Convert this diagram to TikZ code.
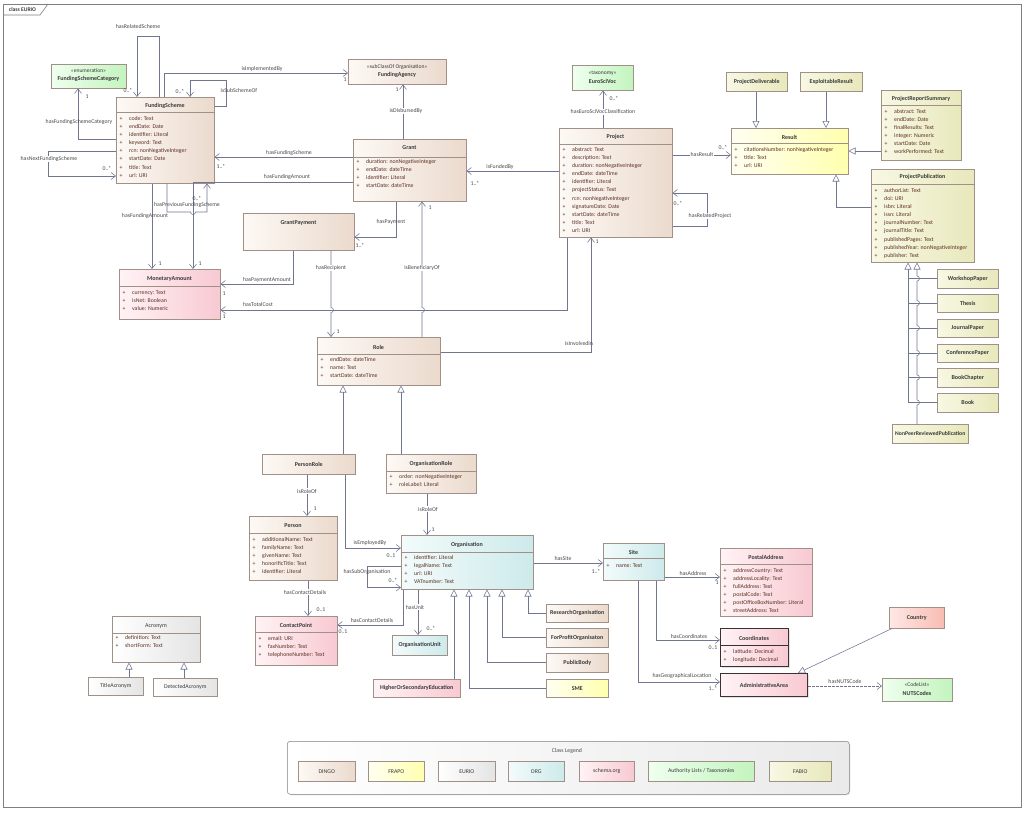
\documentclass[tikz,border=0pt]{standalone}
\usepackage{fontspec}
\setmainfont{Carlito}
\usetikzlibrary{arrows.meta,shadows}
\definecolor{dingoL}{HTML}{FDF9F5}\definecolor{dingoR}{HTML}{EBDACD}
\definecolor{frapoL}{HTML}{FFFFF2}\definecolor{frapoR}{HTML}{FFFFAE}
\definecolor{eurioL}{HTML}{FFFFFF}\definecolor{eurioR}{HTML}{E4E4E4}
\definecolor{orgL}{HTML}{F3FBFB}\definecolor{orgR}{HTML}{CDEAEB}
\definecolor{schL}{HTML}{FFF3F5}\definecolor{schR}{HTML}{F8C9D2}
\definecolor{authL}{HTML}{EFFFEF}\definecolor{authR}{HTML}{C3F4BE}
\definecolor{fabL}{HTML}{F8F8E4}\definecolor{fabR}{HTML}{E8E8BC}
\definecolor{ctyL}{HTML}{FFE8E4}\definecolor{ctyR}{HTML}{F7BCB3}
\definecolor{bord}{HTML}{A09088}
\definecolor{thickb}{HTML}{3C2F35}
\definecolor{lnc}{HTML}{707692}
\definecolor{ttlc}{HTML}{3A3A3A}
\definecolor{attrc}{HTML}{5B2E22}
\definecolor{lblc}{HTML}{4A4A4A}
\definecolor{framec}{HTML}{7F7F7F}
\definecolor{legR}{HTML}{EAEAEA}
\newcommand\pl[1]{\makebox[9.5pt][l]{+}#1}
\newcommand\cls[7]{\node[ubox,#6,minimum width={#4-#2},minimum height={#5-#3},anchor=north west] (#1) at (#2,#3) {#7};}
\begin{document}
\begin{tikzpicture}[x=1pt,y=-1pt,
  ubox/.style={draw=bord,line width=0.5pt,inner sep=0pt,text=ttlc,
    font={\fontsize{6}{7}\selectfont\bfseries},
    drop shadow={shadow xshift=1.2pt,shadow yshift=-1.2pt,opacity=0.22}},
  dingo/.style={left color=dingoL,right color=dingoR},
  frapo/.style={left color=frapoL,right color=frapoR},
  eurio/.style={left color=eurioL,right color=eurioR},
  orgc/.style={left color=orgL,right color=orgR},
  sch/.style={left color=schL,right color=schR},
  auth/.style={left color=authL,right color=authR},
  fab/.style={left color=fabL,right color=fabR},
  cty/.style={left color=ctyL,right color=ctyR},
  thick border/.style={draw=thickb,line width=1pt},
  lgi/.style={font={\fontsize{5.8}{7}\selectfont}},
  ttl/.style={font={\fontsize{6}{7}\selectfont\bfseries},text=ttlc,inner sep=0pt},
  ster/.style={font={\fontsize{5.6}{7}\selectfont},text=ttlc,inner sep=0pt},
  attr/.style={font={\fontsize{5.8}{8.1}\selectfont},text=attrc,align=left,anchor=north west,inner sep=0pt},
  lbl/.style={font={\fontsize{5.8}{7}\selectfont},text=lblc,inner sep=0.5pt},
  lblw/.style={lbl,fill=white},
  dv/.style={draw=bord,line width=0.5pt},
  ln/.style={draw=lnc,line width=0.55pt},
  assoc/.style={ln,-{Straight Barb[length=4.5pt,width=7pt,line width=0.55pt]}},
  gen/.style={ln,-{Triangle[length=7pt,width=7pt,fill=white,line width=0.55pt]}}
]
\useasboundingbox (0,0) rectangle (1024,812);
\fill[white] (0,0) rectangle (1024,812);
% frame
\draw[framec,line width=0.8pt] (3,4) rectangle (1021,807);
\draw[framec,line width=0.6pt] (3,15) -- (40,15) -- (48,4);
\node[font={\fontsize{5.6}{7}\selectfont\bfseries},text=ttlc,inner sep=0pt] (tab) at (22.5,9.8) {class EURIO};

% ---------------- classes ----------------
\cls{fsc}{51}{64}{126}{88}{auth}{}
\node[ster] (fscS) at (88.5,70.5) {«enumeration»};
\node[ttl] (fscT) at (88.5,79) {FundingSchemeCategory};

\cls{fs}{116}{97}{214}{183}{dingo}{}
\node[ttl] (fsT) at (165,106) {FundingScheme};
\draw[dv] (fs.west |- 0,112) -- (fs.east |- 0,112);
\node[attr] (fsA) at (119.5,116.2) {\pl{code: Text}\\\pl{endDate: Date}\\\pl{identifier: Literal}\\\pl{keyword: Text}\\\pl{rcn: nonNegativeInteger}\\\pl{startDate: Date}\\\pl{title: Text}\\\pl{url: URI}};

\cls{fa}{348}{59}{446}{84}{dingo}{}
\node[ster] (faS) at (397,67) {«subClassOf Organisation»};
\node[ttl] (faT) at (397,74.5) {FundingAgency};

\cls{gr}{353}{139}{466}{201}{dingo}{}
\node[ttl] (grT) at (409.5,148) {Grant};
\draw[dv] (gr.west |- 0,157) -- (gr.east |- 0,157);
\node[attr] (grA) at (356.5,159.2) {\pl{duration: nonNegativeInteger}\\\pl{endDate: dateTime}\\\pl{identifier: Literal}\\\pl{startDate: dateTime}};

\cls{gp}{243}{213}{354}{250}{dingo}{}
\node[ttl] (gpT) at (298.5,223) {GrantPayment};

\cls{ma}{119}{269}{220}{319}{sch}{}
\node[ttl] (maT) at (169.5,279) {MonetaryAmount};
\draw[dv] (ma.west |- 0,286) -- (ma.east |- 0,286);
\node[attr] (maA) at (122.5,290.2) {\pl{currency: Text}\\\pl{isNet: Boolean}\\\pl{value: Numeric}};

\cls{esv}{572}{65}{633}{90}{auth}{}
\node[ster] (esvS) at (602.5,73) {«taxonomy»};
\node[ttl] (esvT) at (602.5,81) {EuroSciVoc};

\cls{pj}{559}{128}{672}{237}{dingo}{}
\node[ttl] (pjT) at (615.5,137) {Project};
\draw[dv] (pj.west |- 0,144) -- (pj.east |- 0,144);
\node[attr] (pjA) at (562.5,147.2) {\pl{abstract: Text}\\\pl{description: Text}\\\pl{duration: nonNegativeInteger}\\\pl{endDate: dateTime}\\\pl{identifier: Literal}\\\pl{projectStatus: Text}\\\pl{rcn: nonNegativeInteger}\\\pl{signatureDate: Date}\\\pl{startDate: dateTime}\\\pl{title: Text}\\\pl{url: URI}};

\cls{res}{731}{128}{848}{174}{frapo}{}
\node[ttl] (resT) at (789.5,137) {Result};
\draw[dv] (res.west |- 0,143) -- (res.east |- 0,143);
\node[attr] (resA) at (734.5,147.2) {\pl{citationsNumber: nonNegativeInteger}\\\pl{title: Text}\\\pl{url: URI}};

\cls{pd}{726}{72}{787}{91}{fab}{ProjectDeliverable}
\cls{er}{800}{72}{862}{91}{fab}{ExploitableResult}

\cls{prs}{881}{90}{961}{160}{fab}{}
\node[ttl] (prsT) at (921,99) {ProjectReportSummary};
\draw[dv] (prs.west |- 0,105) -- (prs.east |- 0,105);
\node[attr] (prsA) at (884.5,109.2) {\pl{abstract: Text}\\\pl{endDate: Date}\\\pl{finalResults: Text}\\\pl{integer: Numeric}\\\pl{startDate: Date}\\\pl{workPerformed: Text}};

\cls{pp}{871}{169}{974}{262}{fab}{}
\node[ttl] (ppT) at (922.5,177) {ProjectPublication};
\draw[dv] (pp.west |- 0,184) -- (pp.east |- 0,184);
\node[attr] (ppA) at (874.5,188.2) {\pl{authorList: Text}\\\pl{doi: URI}\\\pl{isbn: Literal}\\\pl{issn: Literal}\\\pl{journalNumber: Text}\\\pl{journalTitle: Text}\\\pl{publishedPages: Text}\\\pl{publishedYear: nonNegativeInteger}\\\pl{publisher: Text}};

\cls{wp}{937}{269}{998}{288}{fab}{WorkshopPaper}
\cls{th}{937}{294}{998}{312}{fab}{Thesis}
\cls{jp}{937}{319}{998}{337}{fab}{JournalPaper}
\cls{cp}{937}{344}{998}{362}{fab}{ConferencePaper}
\cls{bc}{937}{368}{998}{387}{fab}{BookChapter}
\cls{bk}{937}{393}{998}{412}{fab}{Book}
\cls{npr}{892}{424}{968}{443}{fab,font={\fontsize{5.7}{7}\selectfont\bfseries}}{NonPeerReviewedPublication}

\cls{role}{317}{337}{440}{385}{dingo}{}
\node[ttl] (roleT) at (378.5,347) {Role};
\draw[dv] (role.west |- 0,354) -- (role.east |- 0,354);
\node[attr] (roleA) at (320.5,357.2) {\pl{endDate: dateTime}\\\pl{name: Text}\\\pl{startDate: dateTime}};

\cls{pr}{262}{454}{355}{474}{dingo}{PersonRole}

\cls{orr}{386}{454}{476}{493}{dingo}{}
\node[ttl] (orrT) at (431,464) {OrganisationRole};
\draw[dv] (orr.west |- 0,471) -- (orr.east |- 0,471);
\node[attr] (orrA) at (389.5,474.2) {\pl{order: nonNegativeInteger}\\\pl{roleLabel: Literal}};

\cls{per}{249}{516}{337}{580}{dingo}{}
\node[ttl] (perT) at (293,526) {Person};
\draw[dv] (per.west |- 0,533) -- (per.east |- 0,533);
\node[attr] (perA) at (252.5,537.2) {\pl{additionalName: Text}\\\pl{familyName: Text}\\\pl{givenName: Text}\\\pl{honorificTitle: Text}\\\pl{identifier: Literal}};

\cls{cpt}{255}{616}{337}{665}{sch}{}
\node[ttl] (cptT) at (296,625) {ContactPoint};
\draw[dv] (cpt.west |- 0,632) -- (cpt.east |- 0,632);
\node[attr] (cptA) at (258.5,636.2) {\pl{email: URI}\\\pl{faxNumber: Text}\\\pl{telephoneNumber: Text}};

\cls{org}{401}{535}{533}{589}{orgc}{}
\node[ttl] (orgT) at (467,545) {Organisation};
\draw[dv] (org.west |- 0,552) -- (org.east |- 0,552);
\node[attr] (orgA) at (404.5,555.2) {\pl{identifier: Literal}\\\pl{legalName: Text}\\\pl{url: URI}\\\pl{VATnumber: Text}};

\cls{ou}{392}{635}{447}{655}{orgc}{OrganisationUnit}
\cls{ro}{546}{604}{608}{622}{dingo}{ResearchOrganisation}
\cls{fpo}{546}{628}{608}{647}{dingo}{ForProfitOrganisaton}
\cls{pb}{546}{653}{608}{672}{dingo}{PublicBody}
\cls{sme}{546}{679}{608}{697}{frapo}{SME}
\cls{hse}{373}{679}{460}{697}{sch}{HigherOrSecondaryEducation}

\cls{site}{603}{543}{664}{580}{orgc}{}
\node[ttl] (siteT) at (633.5,552) {Site};
\draw[dv] (site.west |- 0,558) -- (site.east |- 0,558);
\node[attr] (siteA) at (606.5,563.2) {\pl{name: Text}};

\cls{pa}{720}{548}{812}{616}{sch}{}
\node[ttl] (paT) at (766,557) {PostalAddress};
\draw[dv] (pa.west |- 0,564) -- (pa.east |- 0,564);
\node[attr] (paA) at (723.5,568.2) {\pl{addressCountry: Text}\\\pl{addressLocality: Text}\\\pl{fullAddress: Text}\\\pl{postalCode: Text}\\\pl{postOfficeBoxNumber: Literal}\\\pl{streetAddress: Text}};

\cls{coo}{720}{628}{788}{666}{sch,thick border}{}
\node[ttl] (cooT) at (754,638) {Coordinates};
\draw[thickb,line width=0.7pt] (coo.west |- 0,645) -- (coo.east |- 0,645);
\node[attr] (cooA) at (723.5,649.2) {\pl{latitude: Decimal}\\\pl{longitude: Decimal}};

\cls{aa}{720}{673}{807}{696}{sch,thick border}{AdministrativeArea}
\cls{ctry}{889}{607}{944}{628}{cty}{Country}

\cls{nuts}{882}{678}{952}{701}{auth}{}
\node[ster] (nutsS) at (917,684.5) {«CodeList»};
\node[ttl] (nutsT) at (917,693) {NUTSCodes};

\cls{acr}{112}{616}{200}{662}{eurio}{}
\node[ttl,font={\fontsize{6}{7}\selectfont}] (acrT) at (156,626) {Acronym};
\draw[dv] (acr.west |- 0,633) -- (acr.east |- 0,633);
\node[attr] (acrA) at (115.5,635.2) {\pl{definition: Text}\\\pl{shortForm: Text}};
\cls{ta}{88}{677}{143}{695}{eurio,font={\fontsize{5.8}{7}\selectfont}}{TitleAcronym}
\cls{da}{153}{678}{217}{696}{eurio,font={\fontsize{5.8}{7}\selectfont}}{DetectedAcronym}

% ---------------- connectors ----------------
\draw[assoc] (fs.north -| 159,0) -- (159,36) -- (137,36) -- (fs.north -| 137,0);
\node[lbl] (L1) at (138,27) {hasRelatedScheme};
\node[lbl] (M1) at (128,90.5) {0..*};

\draw[assoc] (fs.east |- 0,106) -- (226,106) -- (226,80) -- (190,80) -- (fs.north -| 190,0);
\node[lbl] (L2) at (239,91) {isSubSchemeOf};
\node[lbl] (M2) at (180,91) {0..*};

\draw[assoc] (fs.north -| 164,0) -- (164,73) -- (fa.west |- 0,73);
\node[lbl] (L3) at (262,69) {isImplementedBy};
\node[lbl] (M3) at (345,80) {1};

\draw[assoc] (gr.north -| 403,0) -- (fa.south -| 403,0);
\node[lblw] (L4) at (406,111) {isDisbursedBy};
\node[lbl] (M4) at (397,90) {1};

\draw[assoc] (gr.west |- 0,157) -- (fs.east |- 0,157);
\node[lbl] (L5) at (289,153) {hasFundingScheme};
\node[lbl] (M5) at (221,166) {1..*};

\draw[assoc] (gr.west |- 0,182) -- (193,182) -- (ma.north -| 193,0);
\node[lbl] (L6) at (287,177) {hasFundingAmount};
\node[lbl] (M6) at (200,264) {1};

\draw[assoc] (fs.south -| 152,0) -- (ma.north -| 152,0);
\node[lbl] (L7) at (145,215.5) {hasFundingAmount};
\node[lbl] (M7) at (160,264) {1};

\draw[assoc] (fs.south -| 167,0) -- (167,212) -- (190.5,212) arc[start angle=180,end angle=360,radius=2.5pt] -- (207,212) -- (fs.south -| 207,0);
\node[lbl] (L8) at (187,204.5) {hasPreviousFundingScheme};
\node[lbl] (M8) at (197,198.5) {0..*};

\draw[assoc] (fs.west |- 0,139) -- (78,139) -- (fsc.south -| 78,0);
\node[lbl] (L9) at (79,122) {hasFundingSchemeCategory};
\node[lbl] (M9) at (87,97) {1};

\draw[assoc] (fs.west |- 0,151) -- (48,151) -- (48,176) -- (fs.west |- 0,176);
\node[lblw] (L10) at (49,159) {hasNextFundingScheme};
\node[lbl] (M10) at (107,168) {0..*};

\draw[assoc] (gr.south -| 396,0) -- (396,237) -- (gp.east |- 0,237);
\node[lbl] (L11) at (391,222) {hasPayment};
\node[lbl] (M11) at (360,245) {1..*};

\draw[assoc] (gp.south -| 293,0) -- (293,284) -- (ma.east |- 0,284);
\node[lbl] (L12) at (267,280) {hasPaymentAmount};
\node[lbl] (M12) at (224,294) {1};

\draw[assoc] (gp.south -| 331,0) -- (331,307.5) arc[start angle=90,end angle=-90,radius=2.5pt] -- (role.north -| 331,0);
\node[lblw] (L13) at (331,268) {hasRecipient};
\node[lbl] (M13) at (338,332) {1};

\draw[assoc] (pj.south -| 567,0) -- (567,310) -- (ma.east |- 0,310);
\node[lbl] (L14) at (258,304) {hasTotalCost};
\node[lbl] (M14) at (224,317) {1};

\draw[assoc] (role.north -| 422,0) -- (422,312.5) arc[start angle=-90,end angle=90,radius=2.5pt] -- (gr.south -| 422,0);
\node[lblw] (L15) at (422,268) {isBeneficiaryOf};
\node[lbl] (M15) at (430,208) {1};

\draw[assoc] (pj.west |- 0,171) -- (gr.east |- 0,171);
\node[lbl] (L16) at (500,167) {isFundedBy};
\node[lbl] (M16) at (475,183) {1..*};

\draw[assoc] (pj.north -| 603,0) -- (esv.south -| 603,0);
\node[lblw] (L17) at (603,112) {hasEuroSciVocClassification};
\node[lbl] (M17) at (614,98) {0..*};

\draw[assoc] (pj.east |- 0,155) -- (res.west |- 0,155);
\node[lblw] (L18) at (702,155) {hasResult};
\node[lbl] (M18) at (723,147) {0..*};

\draw[assoc] (pj.east |- 0,226) -- (707,226) -- (707,193) -- (pj.east |- 0,193);
\node[lblw] (L19) at (710,216) {hasRelatedProject};
\node[lbl] (M19) at (678,203) {0..*};

\draw[assoc] (role.east |- 0,352) -- (591,352) -- (pj.south -| 591,0);
\node[lbl] (L20) at (579,343) {isInvolvedIn};
\node[lbl] (M20) at (597,242) {1};

% generalisations to Result
\draw[gen] (pd.south -| 756,0) -- (res.north -| 756,0);
\draw[gen] (er.south -| 826,0) -- (res.north -| 826,0);
\draw[gen] (prs.west |- 0,151) -- (res.east |- 0,151);
\draw[gen] (pp.west |- 0,207) -- (836,207) -- (res.south -| 836,0);

% publication subclasses
\draw[gen] (bk.west -| 908,0) -- (pp.south -| 908,0);
\draw[ln] (wp.west) -- (wp.west -| 908,0);
\draw[ln] (th.west) -- (th.west -| 908,0);
\draw[ln] (jp.west) -- (jp.west -| 908,0);
\draw[ln] (cp.west) -- (cp.west -| 908,0);
\draw[ln] (bc.west) -- (bc.west -| 908,0);
\draw[ln] (bk.west) -- (bk.west -| 908,0);
\draw[gen] (npr.north -| 917,0) -- (917,405) arc[start angle=-90,end angle=90,radius=2.5pt]
  -- (917,380) arc[start angle=-90,end angle=90,radius=2.5pt]
  -- (917,355.5) arc[start angle=-90,end angle=90,radius=2.5pt]
  -- (917,330.5) arc[start angle=-90,end angle=90,radius=2.5pt]
  -- (917,305.5) arc[start angle=-90,end angle=90,radius=2.5pt]
  -- (917,281) arc[start angle=-90,end angle=90,radius=2.5pt]
  -- (pp.south -| 917,0);

% role generalisations
\draw[gen] (pr.north -| 343,0) -- (role.south -| 343,0);
\draw[gen] (orr.north -| 401,0) -- (role.south -| 401,0);

\draw[assoc] (pr.south -| 307,0) -- (per.north -| 307,0);
\node[lblw] (L21) at (307,491) {isRoleOf};
\node[lbl] (M21) at (315,509) {1};

\draw[assoc] (pr.south -| 345,0) -- (345,548) -- (org.west |- 0,548);
\node[lbl] (L22) at (370,543) {isEmployedBy};
\node[lbl] (M22) at (391,556) {0..1};

\draw[assoc] (orr.south -| 427,0) -- (org.north -| 427,0);
\node[lblw] (L23) at (428,509) {isRoleOf};
\node[lbl] (M23) at (433,530) {1};

\draw[assoc] (per.south -| 308,0) -- (cpt.north -| 308,0);
\node[lblw] (L24) at (305,592) {hasContactDetails};
\node[lbl] (M24) at (321,610) {0..1};

\draw[assoc] (org.south -| 403,0) -- (403,625) -- (cpt.east |- 0,625);
\node[lbl] (L25) at (372,620) {hasContactDetails};
\node[lbl] (M25) at (343,632) {0..1};

\draw[assoc] (org.west |- 0,566) -- (367,566) -- (367,587.5) -- (org.west |- 0,587.5);
\node[lbl] (L26) at (367,572) {hasSubOrganisation};
\node[lbl] (M26) at (393,580) {0..*};

\draw[assoc] (org.south -| 418,0) -- (ou.north -| 418,0);
\node[lblw] (L27) at (415,607) {hasUnit};
\node[lbl] (M27) at (431,628) {0..*};

% organisation subclasses
\draw[gen] (ro.west) -- (ro.west -| 528,0) -- (org.south -| 528,0);
\draw[gen] (fpo.west) -- (fpo.west -| 502,0) -- (org.south -| 502,0);
\draw[gen] (pb.west) -- (pb.west -| 487,0) -- (org.south -| 487,0);
\draw[gen] (sme.west) -- (sme.west -| 469,0) -- (org.south -| 469,0);
\draw[gen] (hse.north -| 454,0) -- (org.south -| 454,0);

\draw[assoc] (org.east |- 0,563) -- (site.west |- 0,563);
\node[lbl] (L28) at (563,558) {hasSite};
\node[lbl] (M28) at (596,571) {1..*};

\draw[assoc] (site.east |- 0,577) -- (pa.west |- 0,577);
\node[lbl] (L29) at (693,573) {hasAddress};
\node[lbl] (M29) at (717,583) {1};

\draw[assoc] (site.south -| 656,0) -- (656,640) -- (coo.west |- 0,640);
\node[lbl] (L30) at (689,636) {hasCoordinates};
\node[lbl] (M30) at (713,648) {0..1};

\draw[assoc] (site.south -| 638,0) -- (638,682) -- (aa.west |- 0,682);
\node[lbl] (L31) at (682,676) {hasGeographicalLocation};
\node[lbl] (M31) at (713,688) {1..*};

\draw[gen] ([xshift=3pt]ctry.south west) -- ([xshift=-10pt]aa.north east);

\draw[assoc,dash pattern=on 2.5pt off 1.5pt] (aa.east |- 0,686) -- (nuts.west |- 0,686);
\node[lbl] (L32) at (845,681) {hasNUTSCode};

\draw[gen] (ta.north -| 129,0) -- (acr.south -| 129,0);
\draw[gen] (da.north -| 184,0) -- (acr.south -| 184,0);

% ---------------- legend ----------------
\node[draw=framec,line width=0.5pt,rounded corners=3pt,left color=white,right color=legR,
  minimum width=562pt,minimum height=53pt,anchor=north west,inner sep=0pt,
  drop shadow={shadow xshift=1pt,shadow yshift=-1pt,opacity=0.18}] (leg) at (287,741) {};
\node[lbl] (legT) at (567,750.5) {Class Legend};
\cls{lg1}{298}{761}{355}{781}{dingo,lgi}{DINGO}
\cls{lg2}{368}{761}{424}{781}{frapo,lgi}{FRAPO}
\cls{lg3}{438}{761}{495}{781}{eurio,lgi}{EURIO}
\cls{lg4}{508}{761}{564}{781}{orgc,lgi}{ORG}
\cls{lg5}{579}{761}{634}{781}{sch,lgi}{schema.org}
\cls{lg6}{648}{761}{754}{781}{auth,lgi}{Authority Lists / Taxonomies}
\cls{lg7}{769}{761}{831}{781}{fab,lgi}{FABIO}
\end{tikzpicture}
\end{document}
